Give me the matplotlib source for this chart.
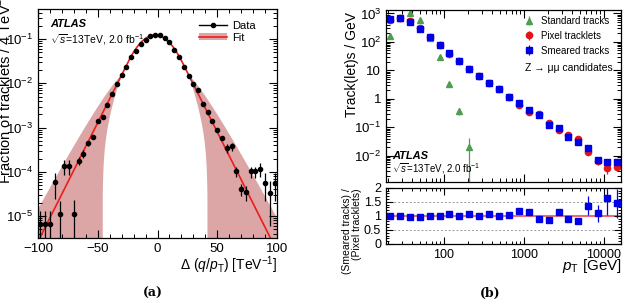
import numpy as np
import matplotlib.pyplot as plt
from matplotlib.lines import Line2D
from matplotlib.patches import Patch
from matplotlib.ticker import LogLocator, MultipleLocator, FuncFormatter, NullFormatter

plt.rcParams["font.family"] = ["Liberation Sans", "DejaVu Sans"]
plt.rcParams["mathtext.fontset"] = "custom"
plt.rcParams["mathtext.rm"] = "Liberation Sans"
plt.rcParams["mathtext.it"] = "Liberation Sans:italic"
plt.rcParams["mathtext.bf"] = "Liberation Sans:bold"

# ---- panel (a): q/pT resolution of tracklets ----
dqpt = np.arange(-98, 99, 4)  # bin centres [TeV^-1]
frac = [6.5e-6, 6.5e-6, 6.5e-6, 5.9e-5, 1.1e-5, 1.35e-4, 1.35e-4, 1.1e-5, 1.8e-4, 2.6e-4,
        4.4e-4, 6.1e-4, 1.44e-3, 1.7e-3, 3.3e-3, 5.9e-3, 9.6e-3, 0.0158, 0.0233, 0.0386,
        0.0537, 0.076, 0.098, 0.117, 0.123,
        0.122, 0.107, 0.086, 0.0565, 0.039, 0.024, 0.0148, 0.0098, 0.0071, 0.0035,
        0.0022, 1.44e-3, 8.7e-4, 5.9e-4, 3.5e-4, 3.8e-4, 1.02e-4, 4.1e-5, 3.5e-5, 1.02e-4,
        1.02e-4, 1.17e-4, 5.7e-5, 3.4e-5, 5.7e-5]
frac_err = [6.5e-6, 6.5e-6, 6.5e-6, 3.5e-5, 1.1e-5, 5e-5, 5e-5, 1.2e-5, 4e-5, 5e-5,
            6e-5, 7e-5, 1.2e-4, 1.3e-4, 1.6e-4, 2e-4, 2.5e-4, 3e-4, 4e-4, 5e-4,
            6e-4, 7e-4, 8e-4, 9e-4, 9e-4,
            9e-4, 8e-4, 7e-4, 6e-4, 5e-4, 4e-4, 3e-4, 2.5e-4, 2e-4, 1.6e-4,
            1.3e-4, 1e-4, 8e-5, 6e-5, 8e-5, 8e-5, 2.6e-5, 1.3e-5, 1.3e-5, 3e-5,
            3e-5, 4e-5, 3.5e-5, 2.8e-5, 3.5e-5]

# fit: gaussian core with exponential tails, and its uncertainty band
fit_norm, fit_mu, fit_sigma, fit_tail = 0.124, -2.0, 13.5, 0.124
band_d0, band_w = 28.0, 16.0

# ---- panel (b): pT spectra ----
pt = [21, 28, 38, 50, 67, 88, 117, 156, 207, 276, 368, 491, 650, 860, 1150, 1530,
      2040, 2720, 3580, 4730, 6310, 8340, 11100, 14700]
smeared = [617, 701, 507, 288, 151, 77.6, 39.4, 21.2, 11.4, 6.3, 3.67, 2.15, 1.19, 0.73,
           0.405, 0.26, 0.12, 0.092, 0.047, 0.0305, 0.0183, 0.0069, 0.0059, 0.0059]
pixel = [611, 694, 523, 297, 151, 77.6, 36.5, 21.2, 10.75, 6.43, 3.5, 2.19, 1.14, 0.62,
         0.352, 0.29, 0.143, 0.082, 0.052, 0.038, 0.0134, 0.0063, 0.0036, 0.0041]
smeared_relerr = [0.01] * 16 + [0.03, 0.04, 0.05, 0.07, 0.15, 0.2, 0.3, 0.25]
pixel_relerr = [0.01] * 16 + [0.03, 0.05, 0.06, 0.1, 0.2, 0.25, 0.35, 0.3]
pt_std = pt[:9]
standard = [160, 680, 1000, 600, 140, 30, 3.3, 0.37, 0.021]
standard_err = [8, 20, 25, 20, 8, 3, 0.6, 0.11, 0.021]
ratio_err = [0.03] * 13 + [0.07, 0.07, 0.05, 0.06, 0.1, 0.08, 0.07, 0.33, 0.3, 0.6, 0.5]

W, H = 627, 305
fig = plt.figure(figsize=(W / 100, H / 100), dpi=100)


def px_axes(l, t, r, b):
    return fig.add_axes([l / W, 1 - b / H, (r - l) / W, (b - t) / H])


def atlas_style(ax):
    ax.tick_params(which="both", direction="in", top=True, right=True, labelsize=9.5)
    ax.tick_params(which="major", length=6, width=0.8)
    ax.tick_params(which="minor", length=3, width=0.7)
    for s in ax.spines.values():
        s.set_linewidth(0.9)


band_col = "#dca6a6"
fit_col = "#ee1c1c"

# ---------------- (a) ----------------
ax = px_axes(38, 9, 277, 238)
xf = np.linspace(-100, 100, 1001)
d = np.abs(xf - fit_mu)
k = fit_tail * fit_sigma ** 2
fit = np.where(d < k,
               fit_norm * np.exp(-d ** 2 / (2 * fit_sigma ** 2)),
               fit_norm * np.exp(k ** 2 / (2 * fit_sigma ** 2) - k * d / fit_sigma ** 2))
r = np.clip((d - band_d0) / band_w, 0, None)
ax.fill_between(xf, np.clip(fit * (1 - r), 1e-12, None), fit * (1 + r),
                color=band_col, lw=0, zorder=1)
ax.plot(xf, fit, color=fit_col, lw=1.2, zorder=2)
ax.errorbar(dqpt, frac, yerr=frac_err, fmt="o", ms=3, color="k",
            elinewidth=0.9, capsize=0, zorder=3)
ax.set_yscale("log")
ax.set_xlim(-100, 100)
ax.set_ylim(3.2e-6, 0.48)
ax.xaxis.set_major_locator(MultipleLocator(50))
ax.xaxis.set_minor_locator(MultipleLocator(10))
ax.yaxis.set_major_locator(LogLocator(base=10, numticks=10))
ax.yaxis.set_minor_locator(LogLocator(base=10, subs=np.arange(2, 10), numticks=20))
ax.yaxis.set_minor_formatter(NullFormatter())
atlas_style(ax)

ax.text(0.05, 0.935, "ATLAS", transform=ax.transAxes, fontsize=8,
        fontweight="bold", style="italic", va="center")
ax.text(0.05, 0.868, r"$\sqrt{s}$=13TeV, 2.0 fb$^{-1}$", transform=ax.transAxes,
        fontsize=7.5, va="center")
h_data = Line2D([], [], color="k", marker="o", ms=3, lw=1)
h_fit = (Patch(facecolor=band_col, edgecolor="none"), Line2D([], [], color=fit_col, lw=1.2))
ax.legend([h_data, h_fit], ["Data", "Fit"], loc="upper left",
          bbox_to_anchor=((199 - 38) / 239, 1 - (21 - 9) / 229), frameon=False,
          fontsize=8, borderpad=0, borderaxespad=0, handlelength=2.5,
          handletextpad=0.45, labelspacing=0.15, handleheight=0.6)

fig.text(4.5 / W, 1 - 184 / H, r"Fraction of tracklets / 4 TeV$^{-1}$", rotation=90,
         ha="center", va="bottom", fontsize=10.5)
fig.text(278 / W, 1 - 265 / H, r"Δ ($q$/$p_{\mathrm{T}}$) [TeV$^{-1}$]",
         ha="right", va="center", fontsize=10)
fig.text(153 / W, 1 - 293 / H, "(a)", family="DejaVu Serif", fontweight="bold",
         fontsize=9, ha="center", va="center")

# ---------------- (b) ----------------
axb = px_axes(386, 10, 621, 182.3)
axr = px_axes(386, 187.7, 621, 244)
green, red, blue = "#4f9e4f", "#e41414", "#0000e6"

axb.errorbar(pt_std, standard, yerr=standard_err, fmt="^", ms=3.8, color=green,
             elinewidth=0.9, capsize=0, label="Standard tracks")
axb.errorbar(pt, pixel, yerr=np.array(pixel) * np.array(pixel_relerr), fmt="o", ms=4.5,
             color=red, elinewidth=0.9, capsize=0, label="Pixel tracklets")
axb.errorbar(pt, smeared, yerr=np.array(smeared) * np.array(smeared_relerr), fmt="s",
             ms=4.5, color=blue, elinewidth=0.9, capsize=0, label="Smeared tracks")
axb.set_xscale("log")
axb.set_yscale("log")
axb.set_xlim(18.8, 16400)
axb.set_ylim(1.17e-3, 1320)
axb.yaxis.set_major_locator(LogLocator(base=10, numticks=10))
axb.yaxis.set_minor_locator(LogLocator(base=10, subs=np.arange(2, 10), numticks=20))
axb.yaxis.set_minor_formatter(NullFormatter())
axb.yaxis.set_major_formatter(FuncFormatter(
    lambda v, _: f"{v:g}" if 1 <= v <= 10 else r"$10^{%d}$" % round(np.log10(v))))
axb.xaxis.set_minor_locator(LogLocator(base=10, subs=np.arange(2, 10), numticks=20))
atlas_style(axb)
axb.tick_params(labelbottom=False)

axb.legend(loc="upper left", bbox_to_anchor=((524 - 386) / 235, 1 - (16 - 10) / 172.3),
           frameon=False, fontsize=7, borderpad=0, borderaxespad=0, handlelength=1.0,
           handletextpad=0.7, labelspacing=0.5)
axb.text((613 - 386) / 235, 1 - (67.7 - 10) / 172.3, "Z → μμ candidates",
         transform=axb.transAxes, ha="right", va="center", fontsize=7.5)
axb.text(0.025, 1 - (155.7 - 10) / 172.3, "ATLAS", transform=axb.transAxes, fontsize=8,
         fontweight="bold", style="italic", va="center")
axb.text(0.025, 1 - (169 - 10) / 172.3, r"$\sqrt{s}$=13TeV, 2.0 fb$^{-1}$",
         transform=axb.transAxes, fontsize=7, va="center")

ratio = np.array(smeared) / np.array(pixel)
axr.axhline(1, color="#e87070", lw=1.5, zorder=1)
for lvl in (0.5, 1.5):
    axr.axhline(lvl, color="0.6", lw=0.7, ls=(0, (2, 2)), zorder=1)
axr.errorbar(pt, ratio, yerr=ratio_err, fmt="s", ms=4.5, color=blue, elinewidth=0.9,
             capsize=0, zorder=3)
axr.set_xscale("log")
axr.set_xlim(18.8, 16400)
axr.set_ylim(0, 2)
axr.set_yticks([0, 0.5, 1, 1.5, 2])
axr.yaxis.set_major_formatter(FuncFormatter(lambda v, _: f"{v:g}"))
axr.yaxis.set_minor_locator(MultipleLocator(0.1))
axr.xaxis.set_major_formatter(FuncFormatter(lambda v, _: f"{v:g}"))
axr.xaxis.set_minor_locator(LogLocator(base=10, subs=np.arange(2, 10), numticks=20))
axr.xaxis.set_minor_formatter(NullFormatter())
atlas_style(axr)
axr.tick_params(which="major", length=5)
axr.tick_params(which="minor", length=2.5)
axr.tick_params(labelsize=9)

fig.text(351.7 / W, 1 - 12 / H, "Track(let)s / GeV", rotation=90, ha="center",
         va="top", fontsize=10)
fig.text(352 / W, 1 - 188 / H, "(Smeared tracks) /\n(Pixel tracklets)", rotation=90,
         ha="center", va="top", fontsize=7.5, multialignment="right", linespacing=1.1)
fig.text(622 / W, 1 - 266 / H, r"$p_{\mathrm{T}}$ [GeV]", ha="right", va="center",
         fontsize=11)
fig.text(490 / W, 1 - 293 / H, "(b)", family="DejaVu Serif", fontweight="bold",
         fontsize=9, ha="center", va="center")

fig.savefig("out.png", dpi=100)
